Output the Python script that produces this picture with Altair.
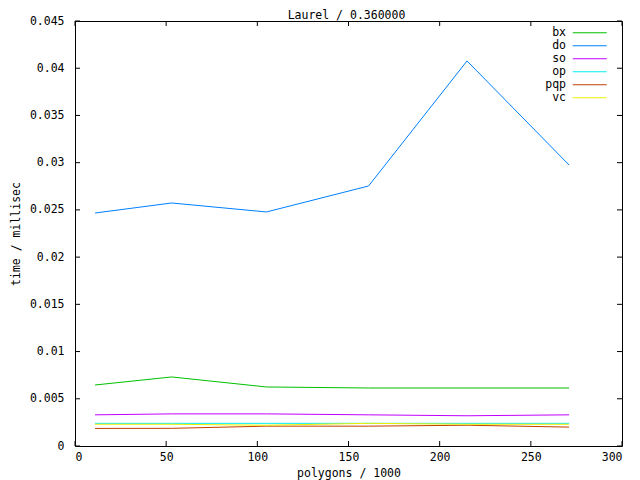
import altair as alt
import pandas as pd

polygons = [11, 53, 105, 161, 215, 271]
series = ["bx", "do", "so", "op", "pqp", "vc"]
bx = [0.00646, 0.00731, 0.00625, 0.00614, 0.00614, 0.00614]
do = [0.02467, 0.02573, 0.02478, 0.02753, 0.04077, 0.02975]
so = [0.0033, 0.0034, 0.0034, 0.0033, 0.0032, 0.0033]
op = [0.0024, 0.0024, 0.0024, 0.0024, 0.0024, 0.0024]
pqp = [0.00186, 0.00187, 0.0021, 0.0021, 0.0022, 0.0020]
vc = [0.0023, 0.0023, 0.0022, 0.0024, 0.0023, 0.0023]
colors = ["#00c000", "#0080ff", "#c000ff", "#00eeee", "#c04000", "#eeee00"]
x_ticks = [0, 50, 100, 150, 200, 250, 300]
y_ticks = [0, 0.005, 0.01, 0.015, 0.02, 0.025, 0.03, 0.035, 0.04, 0.045]

values = {"bx": bx, "do": do, "so": so, "op": op, "pqp": pqp, "vc": vc}
rows = []
for s in series:
    for p, v in zip(polygons, values[s]):
        rows.append({"polygons": p, "time": v, "series": s})
df = pd.DataFrame(rows)
xt = pd.DataFrame({"polygons": x_ticks})
yt = pd.DataFrame({"time": y_ticks})

W, H = 547, 425
FONT = "DejaVu Sans Mono"
FS = 11.5
TICK = 5

xscale = alt.Scale(domain=[0, 300], nice=False, zero=False)
yscale = alt.Scale(domain=[0, 0.045], nice=False, zero=False)

lines = alt.Chart(df).mark_line(strokeWidth=1).encode(
    x=alt.X("polygons:Q", scale=xscale,
            axis=alt.Axis(values=x_ticks, title="polygons / 1000", tickSize=0,
                          labelPadding=5, titlePadding=5, domain=False, grid=False)),
    y=alt.Y("time:Q", scale=yscale,
            axis=alt.Axis(values=y_ticks, format="~g", title="time / millisec", tickSize=0,
                          labelPadding=11, titlePadding=8, domain=False, grid=False)),
    color=alt.Color("series:N",
                    scale=alt.Scale(domain=series, range=colors),
                    legend=alt.Legend(title=None, orient="none", legendX=509, legendY=6,
                                      symbolType="M-3.4,0H3.4", symbolSize=100,
                                      symbolStrokeWidth=1, symbolOpacity=1, rowPadding=0, padding=0,
                                      labelAlign="right", labelOffset={"expr": "-29.5"},
                                      labelFont=FONT, labelFontSize=FS, labelColor="black")),
    detail="series:N",
)

xt_bottom = alt.Chart(xt).mark_rule(color="black", strokeWidth=1).encode(
    x=alt.X("polygons:Q", scale=xscale), y=alt.value(H), y2=alt.value(H - TICK))
xt_top = alt.Chart(xt).mark_rule(color="black", strokeWidth=1).encode(
    x=alt.X("polygons:Q", scale=xscale), y=alt.value(0), y2=alt.value(TICK))
yt_left = alt.Chart(yt).mark_rule(color="black", strokeWidth=1).encode(
    y=alt.Y("time:Q", scale=yscale), x=alt.value(0), x2=alt.value(TICK))
yt_right = alt.Chart(yt).mark_rule(color="black", strokeWidth=1).encode(
    y=alt.Y("time:Q", scale=yscale), x=alt.value(W - TICK), x2=alt.value(W))

chart = alt.layer(lines, xt_bottom, xt_top, yt_left, yt_right).properties(
    width=W, height=H,
    title=alt.TitleParams("Laurel / 0.360000", font=FONT, fontSize=FS, fontWeight="normal",
                          anchor="middle", offset=3, dy=9, dx=-2, color="black"),
    autosize=alt.AutoSizeParams(type="none"),
    padding={"left": 67, "top": 13, "right": 10, "bottom": 40},
    background="white",
).configure_view(
    stroke="black", strokeWidth=1
).configure_axis(
    labelFont=FONT, labelFontSize=FS, labelColor="black",
    titleFont=FONT, titleFontSize=FS, titleFontWeight="normal", titleColor="black",
)

chart.save("out.html", embed_options={"renderer": "svg", "actions": False})
